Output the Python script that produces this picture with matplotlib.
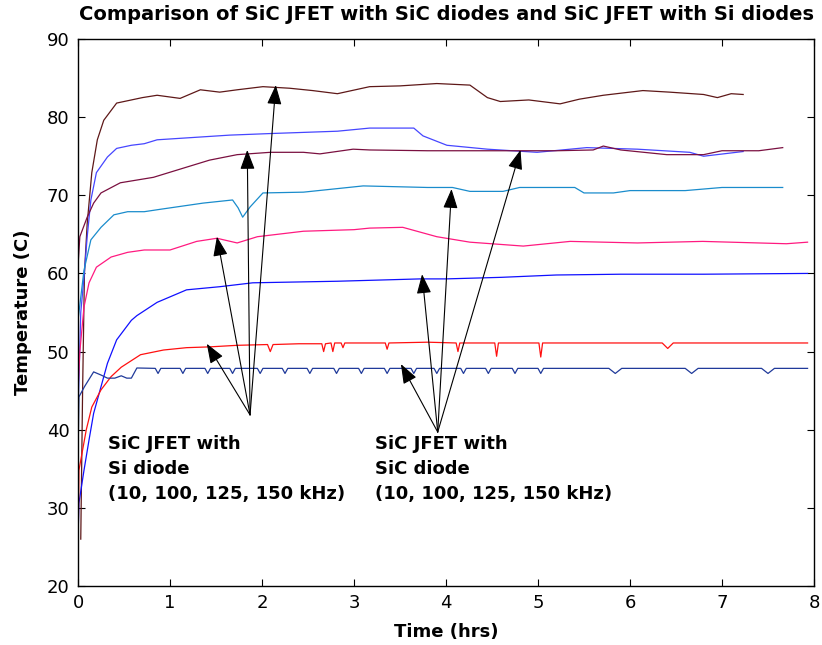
import numpy as np
import matplotlib
matplotlib.use('Agg')
import matplotlib.pyplot as plt

# --- dados (tempo em horas, temperatura em C) ---

# SiC JFET com diodo Si (curvas de cima de cada par)
t_brown = [0.03, 0.05, 0.07, 0.10, 0.15, 0.21, 0.28, 0.42, 0.58, 0.70, 0.86, 1.11, 1.33, 1.54,
           1.73, 2.01, 2.30, 2.55, 2.82, 3.17, 3.50, 3.90, 4.26, 4.45, 4.59, 4.90, 5.24, 5.45,
           5.71, 6.14, 6.43, 6.80, 6.95, 7.10, 7.23]
temp_brown = [26.0, 45.0, 60.0, 66.4, 72.9, 77.1, 79.6, 81.8, 82.2, 82.5, 82.8, 82.4, 83.5, 83.2,
              83.5, 83.9, 83.7, 83.4, 83.0, 83.9, 84.0, 84.3, 84.1, 82.5, 82.0, 82.2, 81.7, 82.3,
              82.8, 83.4, 83.2, 82.9, 82.5, 83.0, 82.9]

t_purple = [0.0, 0.02, 0.10, 0.17, 0.25, 0.46, 0.82, 1.18, 1.43, 1.73, 2.09, 2.45, 2.63, 2.99,
            3.17, 3.80, 4.50, 5.20, 5.60, 5.71, 5.90, 6.40, 6.80, 7.00, 7.40, 7.66]
temp_purple = [61.0, 64.7, 67.2, 69.0, 70.3, 71.6, 72.3, 73.6, 74.5, 75.2, 75.5, 75.5, 75.3, 75.9,
               75.8, 75.7, 75.7, 75.7, 75.8, 76.3, 75.8, 75.2, 75.2, 75.7, 75.7, 76.1]

t_pink = [0.0, 0.02, 0.065, 0.12, 0.20, 0.36, 0.54, 0.72, 1.00, 1.29, 1.51, 1.73, 1.95, 2.45,
          3.00, 3.17, 3.53, 3.90, 4.26, 4.84, 5.35, 6.08, 6.79, 7.70, 7.93]
temp_pink = [45.0, 50.0, 55.7, 58.8, 60.8, 62.1, 62.7, 63.0, 63.0, 64.1, 64.5, 63.9, 64.7, 65.4,
             65.6, 65.8, 65.9, 64.7, 64.0, 63.5, 64.1, 63.9, 64.1, 63.8, 64.0]

t_red = [0.0, 0.005, 0.01, 0.09, 0.15, 0.25, 0.36, 0.47, 0.68, 0.93, 1.18, 1.43, 1.73, 2.06,
         2.09, 2.12, 2.40, 2.65, 2.67, 2.69, 2.75, 2.77, 2.79, 2.86, 2.88, 2.90, 3.34, 3.36,
         3.38, 3.80, 4.11, 4.13, 4.15, 4.53, 4.55, 4.57, 5.01, 5.03, 5.05, 5.80, 6.35, 6.41,
         6.47, 7.20, 7.93]
temp_red = [24.5, 29.0, 34.8, 40.0, 42.9, 45.1, 46.8, 48.0, 49.6, 50.2, 50.5, 50.6, 50.8, 50.9,
            50.0, 50.9, 51.0, 51.0, 50.0, 51.0, 51.1, 50.0, 51.1, 51.1, 50.5, 51.1, 51.1, 50.3,
            51.1, 51.2, 51.1, 50.0, 51.1, 51.1, 49.4, 51.1, 51.1, 49.3, 51.1, 51.1, 51.1, 50.4,
            51.1, 51.1, 51.1]

# SiC JFET com diodo SiC
t_blue2 = [0.0, 0.03, 0.065, 0.10, 0.14, 0.20, 0.32, 0.42, 0.58, 0.72, 0.86, 1.65, 2.09, 2.82,
           3.17, 3.65, 3.75, 4.01, 4.45, 4.99, 5.53, 6.08, 6.65, 6.80, 7.23]
temp_blue2 = [42.0, 55.0, 59.5, 64.7, 69.4, 72.9, 74.9, 76.0, 76.4, 76.6, 77.1, 77.7, 77.9, 78.2,
              78.6, 78.6, 77.6, 76.4, 75.9, 75.5, 76.1, 75.9, 75.5, 75.0, 75.6]

t_cyan = [0.0, 0.065, 0.14, 0.25, 0.39, 0.54, 0.72, 0.89, 1.36, 1.68, 1.74, 1.79, 1.87, 2.01,
          2.45, 3.10, 3.80, 4.07, 4.26, 4.62, 4.80, 5.40, 5.50, 5.82, 6.00, 6.60, 7.00, 7.66]
temp_cyan = [54.0, 60.4, 64.3, 65.9, 67.5, 67.9, 67.9, 68.2, 69.0, 69.4, 68.4, 67.2, 68.5, 70.3,
             70.4, 71.2, 71.0, 71.0, 70.5, 70.5, 71.0, 71.0, 70.3, 70.3, 70.6, 70.6, 71.0, 71.0]

t_blue = [0.0, 0.01, 0.065, 0.12, 0.17, 0.25, 0.32, 0.42, 0.58, 0.64, 0.86, 1.18, 1.54, 1.90,
          2.82, 3.72, 4.00, 4.60, 5.20, 5.90, 6.80, 7.93]
temp_blue = [26.0, 30.6, 34.8, 38.7, 42.1, 45.5, 48.5, 51.5, 54.0, 54.6, 56.3, 57.9, 58.3, 58.8,
             59.0, 59.3, 59.3, 59.5, 59.8, 59.9, 59.9, 60.0]

t_navy = [0.0, 0.01, 0.07, 0.17, 0.25, 0.32, 0.40, 0.47, 0.53, 0.58, 0.64, 0.84, 0.87, 0.90,
          1.11, 1.14, 1.17, 1.38, 1.41, 1.44, 1.65, 1.68, 1.71, 1.95, 1.98, 2.01, 2.22, 2.25,
          2.28, 2.49, 2.52, 2.55, 2.78, 2.81, 2.84, 3.05, 3.08, 3.11, 3.33, 3.36, 3.39, 3.62,
          3.65, 3.68, 3.87, 3.90, 3.93, 4.16, 4.19, 4.22, 4.43, 4.46, 4.49, 4.72, 4.75, 4.78,
          5.00, 5.03, 5.06, 5.77, 5.84, 5.91, 6.60, 6.67, 6.74, 7.43, 7.50, 7.57, 7.93]
temp_navy = [36.0, 44.2, 45.5, 47.4, 47.0, 46.6, 46.6, 46.9, 46.6, 46.6, 47.9, 47.85, 47.2, 47.85,
             47.85, 47.2, 47.85, 47.85, 47.2, 47.85, 47.85, 47.2, 47.85, 47.85, 47.2, 47.85, 47.85, 47.2,
             47.85, 47.85, 47.2, 47.85, 47.85, 47.2, 47.85, 47.85, 47.2, 47.85, 47.85, 47.2, 47.85, 47.85,
             47.2, 47.85, 47.85, 47.2, 47.85, 47.85, 47.2, 47.85, 47.85, 47.2, 47.85, 47.85, 47.2, 47.85,
             47.85, 47.2, 47.85, 47.85, 47.2, 47.85, 47.85, 47.2, 47.85, 47.85, 47.2, 47.85, 47.85]

# pontas das setas (t, temp) e origem comum de cada grupo
seta_si_origem = (1.87, 41.9)
setas_si = [(1.40, 51.0), (1.51, 64.7), (1.84, 75.8), (2.15, 84.1)]
seta_sic_origem = (3.91, 39.7)
setas_sic = [(3.51, 48.4), (3.74, 59.9), (4.06, 70.8), (4.81, 75.8)]

texto_si = 'SiC JFET with\nSi diode\n(10, 100, 125, 150 kHz)'
texto_sic = 'SiC JFET with\nSiC diode\n(10, 100, 125, 150 kHz)'

# --- figura ---
fig = plt.figure(figsize=(8.22, 6.45), dpi=100)
ax = fig.add_axes([78 / 822, 1 - 586 / 645, 736 / 822, 547 / 645])

lw = 0.9
ax.plot(t_brown, temp_brown, color='#5e1818', lw=lw)
ax.plot(t_blue2, temp_blue2, color='#4646ff', lw=lw)
ax.plot(t_purple, temp_purple, color='#7a1040', lw=lw)
ax.plot(t_cyan, temp_cyan, color='#1a8ccc', lw=lw)
ax.plot(t_pink, temp_pink, color='#ff1a80', lw=lw)
ax.plot(t_blue, temp_blue, color='#1010ff', lw=lw)
ax.plot(t_red, temp_red, color='#ff1010', lw=lw)
ax.plot(t_navy, temp_navy, color='#203a9a', lw=lw)

estilo = dict(arrowstyle='-|>,head_length=1.2,head_width=0.45', color='black',
              lw=0.8, mutation_scale=10, shrinkA=0, shrinkB=0)
for ponta in setas_si:
    ax.annotate('', xy=ponta, xytext=seta_si_origem, arrowprops=estilo)
for ponta in setas_sic:
    ax.annotate('', xy=ponta, xytext=seta_sic_origem, arrowprops=estilo)

ax.text(0.33, 39.3, texto_si, fontsize=13, fontweight='bold', ha='left', va='top',
        linespacing=1.5)
ax.text(3.23, 39.3, texto_sic, fontsize=13, fontweight='bold', ha='left', va='top',
        linespacing=1.5)

ax.set_xlim(0, 8)
ax.set_ylim(20, 90)
ax.set_xticks(range(0, 9))
ax.set_yticks(range(20, 91, 10))
ax.tick_params(direction='in', top=True, right=True, length=5, labelsize=13, pad=6)
for s in ax.spines.values():
    s.set_linewidth(1.0)

ax.set_title('Comparison of SiC JFET with SiC diodes and SiC JFET with Si diodes',
             fontsize=14, fontweight='bold', pad=14)
ax.set_xlabel('Time (hrs)', fontsize=13, fontweight='bold', labelpad=8)
ax.set_ylabel('Temperature (C)', fontsize=13, fontweight='bold', labelpad=11)

fig.savefig('out.png', dpi=100)
